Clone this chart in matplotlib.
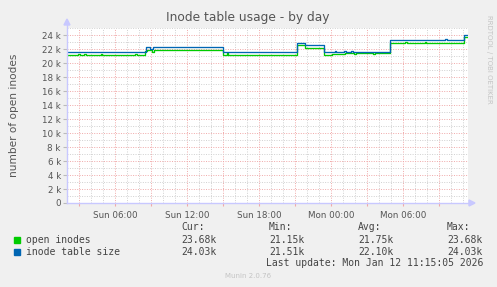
import numpy as np
import matplotlib
matplotlib.use('Agg')
import matplotlib.pyplot as plt

# hours since Sun 00:00, step breakpoints (value holds until next time)
size_hours = [2.0, 8.55, 8.95, 9.15, 12.85, 13.0, 15.0, 21.2, 21.8, 23.4,
              24.3, 24.45, 25.1, 25.25, 25.7, 25.85, 28.9, 33.5, 33.65,
              35.1, 35.42]
size_vals = [21.55, 22.3, 22.0, 22.25, 22.35, 22.25, 21.55, 22.9, 22.55,
             21.6, 21.75, 21.6, 21.75, 21.6, 21.7, 21.6, 23.3, 23.4,
             23.3, 24.03, 24.03]

open_hours = [2.0, 2.9, 3.05, 3.4, 3.55, 4.8, 4.95, 7.7, 7.85, 8.5, 8.7,
              9.1, 9.25, 15.0, 15.3, 15.45, 21.2, 21.8, 23.4, 24.1, 25.0,
              25.2, 25.9, 26.1, 27.5, 27.7, 28.9, 30.2, 30.35, 31.8, 31.95,
              35.1, 35.42]
open_vals = [21.2, 21.35, 21.2, 21.35, 21.2, 21.35, 21.2, 21.35, 21.2,
             21.7, 21.95, 21.55, 21.95, 21.2, 21.45, 21.2, 22.6, 22.15,
             21.2, 21.35, 21.25, 21.4, 21.25, 21.4, 21.25, 21.4, 22.95,
             23.05, 22.95, 23.05, 22.95, 23.68, 23.68]

tick_hours = [6, 12, 18, 24, 30]
tick_labels = ['Sun 06:00', 'Sun 12:00', 'Sun 18:00', 'Mon 00:00', 'Mon 06:00']

legend_names = ['open inodes', 'inode table size']
legend_cur = ['23.68k', '24.03k']
legend_min = ['21.15k', '21.51k']
legend_avg = ['21.75k', '22.10k']
legend_max = ['23.68k', '24.03k']
colors = ['#00CC00', '#0066B3']

W, H = 497, 287
fig = plt.figure(figsize=(W / 100, H / 100), dpi=100, facecolor='#F0F0F0')
x0, x1, y0, y1 = 67, 468, 203, 27.5
ax = fig.add_axes([x0 / W, (H - y0) / H, (x1 - x0) / W, (y0 - y1) / H])
ax.set_facecolor('white')

ax.plot(open_hours, np.array(open_vals) * 1000, drawstyle='steps-post',
        color=colors[0], lw=0.95, zorder=3)
ax.plot(size_hours, np.array(size_vals) * 1000, drawstyle='steps-post',
        color=colors[1], lw=0.95, zorder=4)

ax.set_xlim(2.0, 35.42)
ax.set_ylim(0, 25100)

ax.set_xticks(np.arange(3, 36, 3))
ax.set_xticklabels([tick_labels[tick_hours.index(h)] if h in tick_hours else ''
                    for h in range(3, 36, 3)])
ax.set_xticks(np.arange(3, 36, 1), minor=True)
ax.set_yticks(np.arange(0, 25000, 2000))
ax.set_yticklabels(['0'] + ['%d k' % (v // 1000) for v in range(2000, 25000, 2000)])
ax.set_yticks(np.arange(1000, 26000, 1000), minor=True)

dot = (0, (1, 1.5))
ax.grid(which='minor', color='#D0D0D0', lw=0.7, ls=dot, zorder=1)
ax.grid(which='major', color='#F0A8A8', lw=0.7, ls=dot, zorder=2)
ax.tick_params(axis='x', which='major', length=2, color='#F0A8A8',
               labelsize=6.3, labelcolor='#555555', pad=4)
ax.tick_params(axis='x', which='minor', length=0)
ax.tick_params(axis='y', which='major', length=3, color='#BBBBBB',
               labelsize=6.3, labelcolor='#555555', pad=1.5)
ax.tick_params(axis='y', which='minor', length=0)
for s in ax.spines.values():
    s.set_visible(False)

# axis lines with arrows
ax_col = '#C8C8FF'
fig.add_artist(plt.Line2D([x0 / W, x0 / W], [(H - y0) / H, (H - 22) / H],
                          color=ax_col, lw=1))
fig.add_artist(plt.Line2D([x0 / W, 472 / W], [(H - y0) / H, (H - y0) / H],
                          color=ax_col, lw=1))
fig.add_artist(plt.Polygon([[(x0 - 3) / W, (H - 25) / H], [(x0 + 3) / W, (H - 25) / H],
                            [x0 / W, (H - 19) / H]], closed=True, color=ax_col))
fig.add_artist(plt.Polygon([[469 / W, (H - y0 + 3) / H], [469 / W, (H - y0 - 3) / H],
                            [475 / W, (H - y0) / H]], closed=True, color=ax_col))

fig.text(248 / W, 1 - 17 / H, 'Inode table usage - by day', ha='center',
         va='center', fontsize=8.8, color='#555555')
fig.text(14 / W, 1 - 115 / H, 'number of open inodes', rotation=90,
         ha='center', va='center', fontsize=7.6, color='#555555')
fig.text(489 / W, 1 - 15 / H, 'RRDTOOL / TOBI OETIKER', rotation=270,
         ha='center', va='top', fontsize=5, color='#C4C4C4')

mono = dict(family='DejaVu Sans Mono', fontsize=7, color='#444444', va='center')
cols = [181, 269, 358, 447]
for cx, head in zip(cols, ['Cur:', 'Min:', 'Avg:', 'Max:']):
    fig.text(cx / W, 1 - 227 / H, head, **mono)
for i, name in enumerate(legend_names):
    yy = 1 - (240 + 12 * i) / H
    fig.add_artist(plt.Rectangle((14 / W, yy - 3 / H), 6 / W, 6 / H,
                                 color=colors[i]))
    fig.text(26 / W, yy, name, **mono)
    for cx, val in zip(cols, [legend_cur[i], legend_min[i], legend_avg[i], legend_max[i]]):
        fig.text(cx / W, yy, val, **mono)
fig.text(483 / W, 1 - 263.5 / H, 'Last update: Mon Jan 12 11:15:05 2026',
         ha='right', **mono)
fig.text(248 / W, 1 - 276 / H, 'Munin 2.0.76', ha='center', va='center',
         fontsize=5, color='#C4C4C4')

fig.savefig('out.png', dpi=100, facecolor=fig.get_facecolor())
